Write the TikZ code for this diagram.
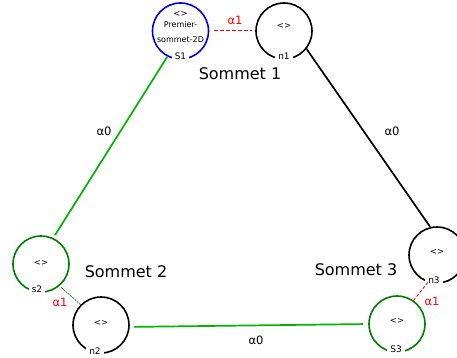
\documentclass[tikz,border=0pt]{standalone}
\usepackage{fontspec}
\setmainfont{DejaVu Sans}
\definecolor{cgreen}{RGB}{0,128,0}
\definecolor{lgreen}{RGB}{0,180,0}
\definecolor{cblue}{RGB}{0,0,230}
\definecolor{cred}{RGB}{255,0,0}
\tikzset{
  vtx/.style={circle,draw,line width=1.6pt,minimum size=56pt,inner sep=0pt,outer sep=0pt},
  lab/.style={fill=white,inner xsep=3pt,inner ysep=1.5pt,font=\fontsize{9}{10}\selectfont},
  inn/.style={font=\fontsize{8.5}{9}\selectfont,align=center},
  som/.style={font=\fontsize{16}{18}\selectfont},
  alf/.style={font=\fontsize{11.5}{13}\selectfont},
  solidedge/.style={line width=1.7pt},
  dashedge/.style={line width=0.9pt,dash pattern=on 3.5pt off 2.5pt}
}
\begin{document}
\begin{tikzpicture}[x=1pt,y=-1pt]
\useasboundingbox (0,0) rectangle (457,358);
% vertices
\node[vtx,draw=cblue] (S1) at (180.5,31) {};
\node[vtx,draw=black] (n1) at (284,31) {};
\node[vtx,draw=cgreen] (s2) at (41,264) {};
\node[vtx,draw=black] (n2) at (101,325) {};
\node[vtx,draw=black] (n3) at (437,255) {};
\node[vtx,draw=cgreen] (S3) at (397,324) {};
% labels on circles
\node[lab] (S1l) at (180.5,56) {S1};
\node[lab] (n1l) at (284,56) {n1};
\node[lab] (s2l) at (37,289) {s2};
\node[lab] (n2l) at (95,351) {n2};
\node[lab] (n3l) at (434,280) {n3};
\node[lab] (S3l) at (396,349) {S3};
% inner texts
\node[inn] (S1t) at (180.5,14) {<>};
\node[inn,font=\fontsize{8}{15}\selectfont] (S1u) at (180.5,32) {Premier-\\sommet-2D};
\node[inn] (n1t) at (284,26) {<>};
\node[inn] (s2t) at (41,263) {<>};
\node[inn] (n2t) at (101,323) {<>};
\node[inn] (n3t) at (437,252) {<>};
\node[inn] (S3t) at (397,321) {<>};
% edges
\draw[dashedge,cred,shorten <=6pt,shorten >=4pt] (S1.2) -- (n1.178);
\draw[solidedge,lgreen,shorten <=1pt,shorten >=4pt] (S1.-117) -- (s2.65);
\draw[solidedge,black,shorten <=0pt,shorten >=1pt] (n1.-38) -- (n3.103);
\draw[line width=0.8pt,dash pattern=on 2pt off 1pt,lgreen!80!black,shorten <=3pt,shorten >=0pt] (s2.-50) -- (n2.135);
\draw[solidedge,lgreen,shorten <=5pt,shorten >=6pt] (n2.-4) -- (S3.180);
\draw[line width=0.9pt,dash pattern=on 3pt off 2pt,cred,shorten <=1pt,shorten >=0pt] (n3.-108) -- (S3.55);
% edge labels
\node[alf,cred] (a1l) at (235,20) {α1};
\node[alf,cred] (a2l) at (60,302) {α1};
\node[alf,cred] (a3l) at (432,301) {α1};
\node[alf] (b1) at (104,131) {α0};
\node[alf] (b2) at (392,131) {α0};
\node[alf] (b3) at (256,340) {α0};
% sommet labels
\node[som] (T1) at (240,74) {Sommet 1};
\node[som] (T2) at (126,272) {Sommet 2};
\node[som] (T3) at (356,270) {Sommet 3};
\end{tikzpicture}
\end{document}
